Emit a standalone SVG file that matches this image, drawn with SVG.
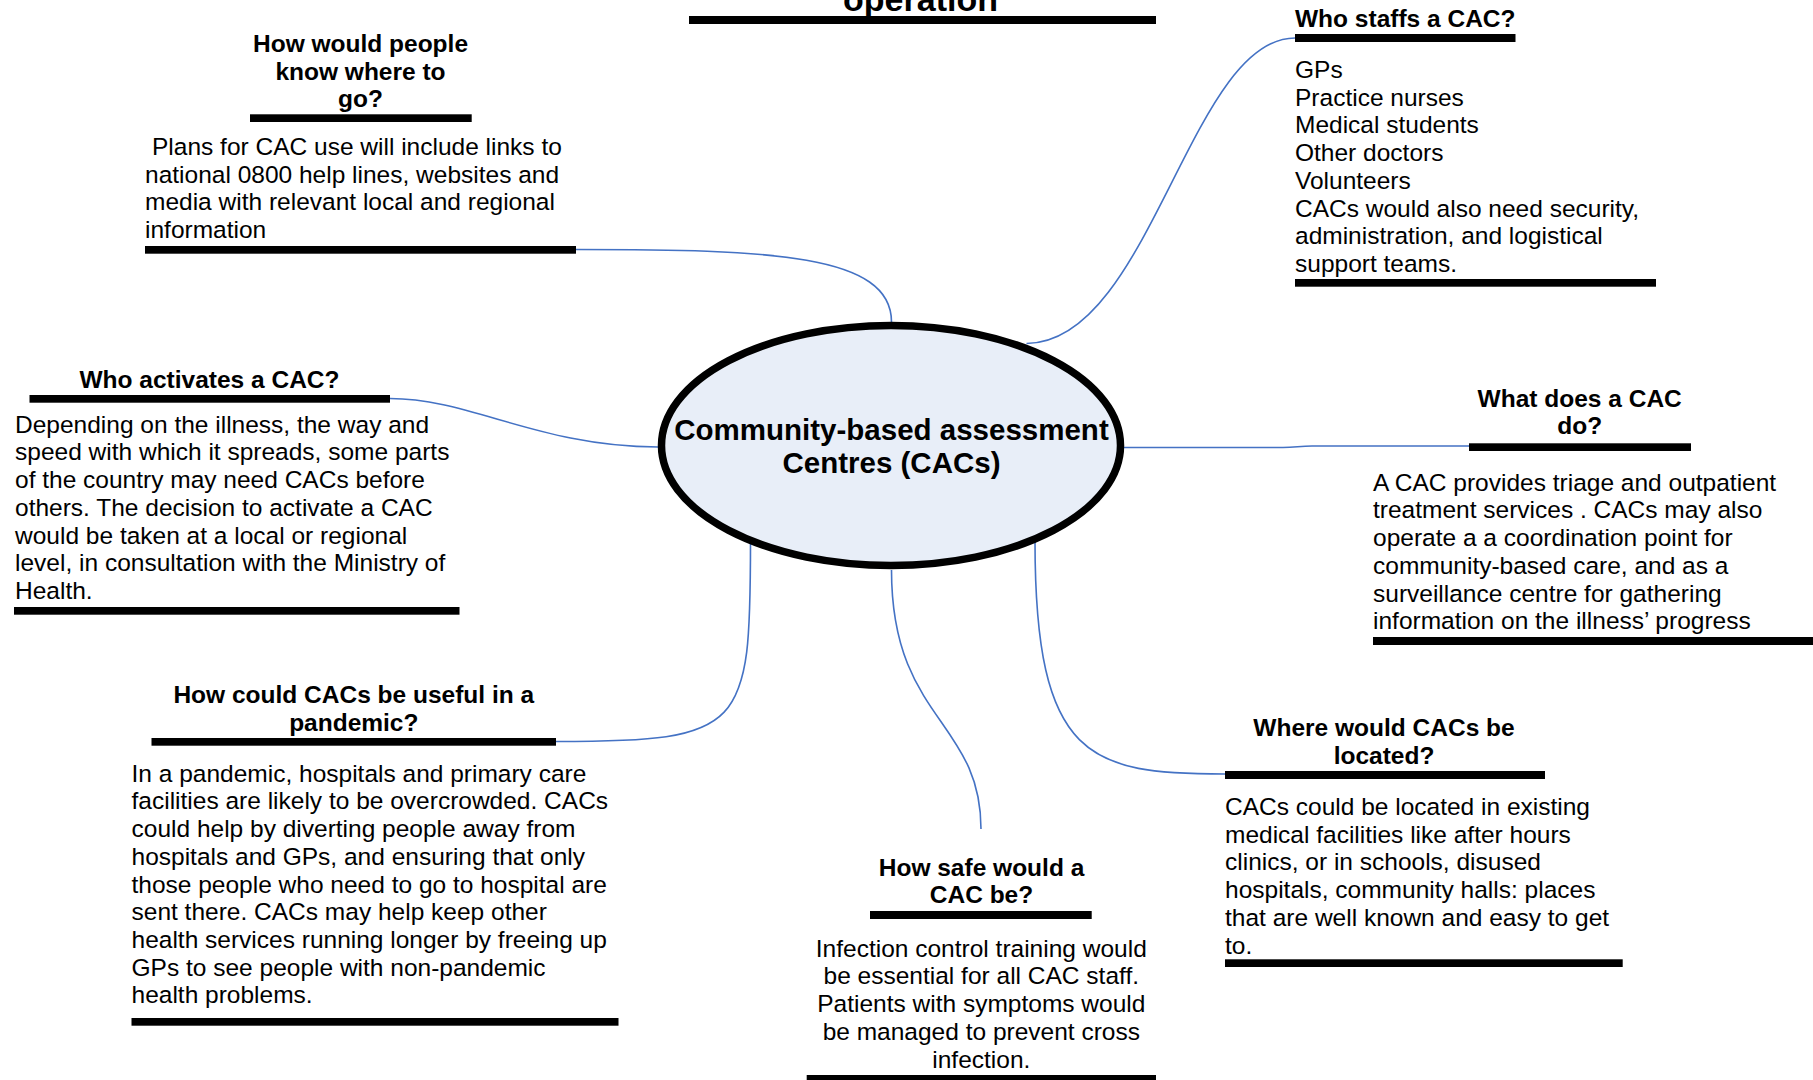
<svg xmlns="http://www.w3.org/2000/svg" width="1813" height="1080" viewBox="0 0 1813 1080">
  <style>
    text { font-family: "Liberation Sans", Arial, sans-serif; fill: #000; }
    .head { font-size: 24.5px; font-weight: bold; }
    .body { font-size: 24.5px; }
    .mid { text-anchor: middle; }
    .centre { font-size: 29.5px; font-weight: bold; text-anchor: middle; }
    .top { font-size: 34px; font-weight: bold; text-anchor: middle; }
    .bar { fill: #000; }
    .link { fill: none; stroke: #4472C4; stroke-width: 1.6; }
  </style>
  <rect width="1813" height="1080" fill="#fff"/>

  <!-- connectors from the central ellipse to each topic -->
  <g id="connectors">
    <path class="link" d="M576,249.5 C770,249.5 891.5,254 891.5,322"/>
    <path class="link" d="M1026.5,343.5 C1150,343 1190,38 1295,38"/>
    <path class="link" d="M390,398.5 C470,398.5 540,447 658,447"/>
    <path class="link" d="M1124,447.5 L1283,447.5 C1295,447.5 1300,446 1312,446 L1469,446"/>
    <path class="link" d="M750.5,541 C750.5,730 745,741.5 556,741.5"/>
    <path class="link" d="M891.5,570 C891.5,720 981,720 981,829"/>
    <path class="link" d="M1035,541 C1035,760 1090,774 1225,774"/>
  </g>

  <!-- heading cut off at the top edge -->
  <g id="node-operation">
    <text class="top" x="920.5" y="11">operation</text>
    <rect class="bar" x="689" y="16" width="467" height="8"/>
  </g>

  <g id="node-centre">
    <ellipse cx="891" cy="445.5" rx="229.5" ry="120" fill="#E8EEF8" stroke="#000" stroke-width="7.5"/>
    <text class="centre" x="891.5" y="439.5">Community-based assessment</text>
    <text class="centre" x="891.5" y="473">Centres (CACs)</text>
  </g>

  <g id="node-where-to-go">
    <text class="head mid" x="360.5" y="52">How would people</text>
    <text class="head mid" x="360.5" y="79.7">know where to</text>
    <text class="head mid" x="360.5" y="107.4">go?</text>
    <rect class="bar" x="250" y="114.3" width="221.7" height="7.7"/>
    <text class="body" x="152" y="155">Plans for CAC use will include links to</text>
    <text class="body" x="145" y="182.7">national 0800 help lines, websites and</text>
    <text class="body" x="145" y="210.4">media with relevant local and regional</text>
    <text class="body" x="145" y="238.1">information</text>
    <rect class="bar" x="145" y="246" width="431" height="7.7"/>
  </g>

  <g id="node-who-staffs">
    <text class="head" x="1295" y="27">Who staffs a CAC?</text>
    <rect class="bar" x="1295" y="34" width="220.5" height="8"/>
    <text class="body" x="1295" y="78">GPs</text>
    <text class="body" x="1295" y="105.7">Practice nurses</text>
    <text class="body" x="1295" y="133.4">Medical students</text>
    <text class="body" x="1295" y="161.1">Other doctors</text>
    <text class="body" x="1295" y="188.8">Volunteers</text>
    <text class="body" x="1295" y="216.5">CACs would also need security,</text>
    <text class="body" x="1295" y="244.2">administration, and logistical</text>
    <text class="body" x="1295" y="271.9">support teams.</text>
    <rect class="bar" x="1295" y="279" width="361" height="7.7"/>
  </g>

  <g id="node-who-activates">
    <text class="head mid" x="209.5" y="387.5">Who activates a CAC?</text>
    <rect class="bar" x="29.5" y="395" width="360.5" height="7.7"/>
    <text class="body" x="15" y="432.7">Depending on the illness, the way and</text>
    <text class="body" x="15" y="460.4">speed with which it spreads, some parts</text>
    <text class="body" x="15" y="488.1">of the country may need CACs before</text>
    <text class="body" x="15" y="515.8">others. The decision to activate a CAC</text>
    <text class="body" x="15" y="543.5">would be taken at a local or regional</text>
    <text class="body" x="15" y="571.2">level, in consultation with the Ministry of</text>
    <text class="body" x="15" y="598.9">Health.</text>
    <rect class="bar" x="14" y="607" width="445.5" height="7.7"/>
  </g>

  <g id="node-what-does">
    <text class="head mid" x="1579.7" y="406.7">What does a CAC</text>
    <text class="head mid" x="1579.7" y="434.4">do?</text>
    <rect class="bar" x="1469" y="443.3" width="222" height="7.7"/>
    <text class="body" x="1373" y="490.7">A CAC provides triage and outpatient</text>
    <text class="body" x="1373" y="518.4">treatment services . CACs may also</text>
    <text class="body" x="1373" y="546.1">operate a a coordination point for</text>
    <text class="body" x="1373" y="573.8">community-based care, and as a</text>
    <text class="body" x="1373" y="601.5">surveillance centre for gathering</text>
    <text class="body" x="1373" y="629.2">information on the illness’ progress</text>
    <rect class="bar" x="1373" y="637" width="440" height="8"/>
  </g>

  <g id="node-pandemic-use">
    <text class="head mid" x="353.8" y="703">How could CACs be useful in a</text>
    <text class="head mid" x="353.8" y="730.7">pandemic?</text>
    <rect class="bar" x="151.5" y="738" width="404.5" height="7.7"/>
    <text class="body" x="131.5" y="781.7">In a pandemic, hospitals and primary care</text>
    <text class="body" x="131.5" y="809.4">facilities are likely to be overcrowded. CACs</text>
    <text class="body" x="131.5" y="837.1">could help by diverting people away from</text>
    <text class="body" x="131.5" y="864.8">hospitals and GPs, and ensuring that only</text>
    <text class="body" x="131.5" y="892.5">those people who need to go to hospital are</text>
    <text class="body" x="131.5" y="920.2">sent there. CACs may help keep other</text>
    <text class="body" x="131.5" y="947.9">health services running longer by freeing up</text>
    <text class="body" x="131.5" y="975.6">GPs to see people with non-pandemic</text>
    <text class="body" x="131.5" y="1003.3">health problems.</text>
    <rect class="bar" x="131.5" y="1018" width="487" height="7.7"/>
  </g>

  <g id="node-how-safe">
    <text class="head mid" x="981.5" y="876">How safe would a</text>
    <text class="head mid" x="981.5" y="903.3">CAC be?</text>
    <rect class="bar" x="870" y="911" width="221.7" height="8"/>
    <text class="body mid" x="981.3" y="956.7">Infection control training would</text>
    <text class="body mid" x="981.3" y="984.4">be essential for all CAC staff.</text>
    <text class="body mid" x="981.3" y="1012.1">Patients with symptoms would</text>
    <text class="body mid" x="981.3" y="1039.8">be managed to prevent cross</text>
    <text class="body mid" x="981.3" y="1067.5">infection.</text>
    <rect class="bar" x="806.7" y="1075" width="349.3" height="8"/>
  </g>

  <g id="node-where-located">
    <text class="head mid" x="1384" y="736">Where would CACs be</text>
    <text class="head mid" x="1384" y="763.5">located?</text>
    <rect class="bar" x="1225" y="771" width="320" height="8"/>
    <text class="body" x="1225" y="815">CACs could be located in existing</text>
    <text class="body" x="1225" y="842.7">medical facilities like after hours</text>
    <text class="body" x="1225" y="870.4">clinics, or in schools, disused</text>
    <text class="body" x="1225" y="898.1">hospitals, community halls: places</text>
    <text class="body" x="1225" y="925.8">that are well known and easy to get</text>
    <text class="body" x="1225" y="953.5">to.</text>
    <rect class="bar" x="1225" y="959.3" width="397.7" height="7.7"/>
  </g>
</svg>
